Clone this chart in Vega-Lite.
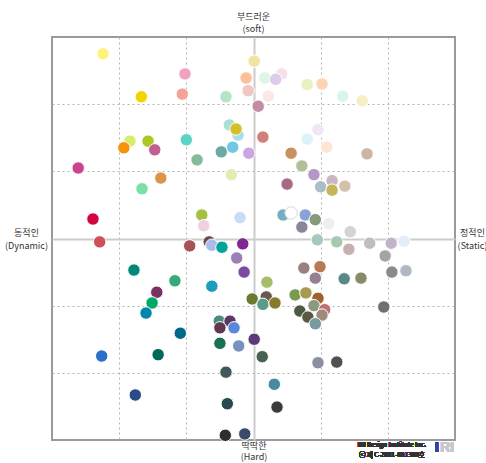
{
  "$schema": "https://vega.github.io/schema/vega-lite/v6.json",
  "width": 403,
  "height": 403,
  "autosize": {"type": "none"},
  "padding": {"left": 52, "top": 37, "right": 31, "bottom": 23},
  "background": "white",
  "config": {
    "view": {"stroke": "#9a9a9a", "strokeWidth": 2},
    "font": "Noto Sans CJK KR"
  },
  "title": {
    "text": "부드러운",
    "subtitle": "(soft)",
    "font": "Noto Sans CJK KR",
    "subtitleFont": "Noto Sans CJK KR",
    "fontSize": 9,
    "subtitleFontSize": 9,
    "fontWeight": "normal",
    "color": "#333333",
    "subtitleColor": "#333333",
    "anchor": "middle",
    "frame": "group",
    "offset": 3,
    "subtitlePadding": 3
  },
  "data": {
    "values": [
      {"x": -2.24, "y": 2.75, "hex": "#FFF27A"},
      {"x": -1.02, "y": 2.45, "hex": "#EFA3C0"},
      {"x": -1.67, "y": 2.11, "hex": "#F2D500"},
      {"x": -1.06, "y": 2.15, "hex": "#F3A39A"},
      {"x": -0.41, "y": 2.11, "hex": "#B5E3C5"},
      {"x": 0.01, "y": 2.64, "hex": "#EFE4A0"},
      {"x": -0.11, "y": 2.39, "hex": "#FBC095"},
      {"x": 0.42, "y": 2.45, "hex": "#F7E0EA"},
      {"x": 0.17, "y": 2.39, "hex": "#DDF5E3"},
      {"x": 0.33, "y": 2.37, "hex": "#DCCBEA"},
      {"x": -0.08, "y": 2.20, "hex": "#F2C6C0"},
      {"x": 0.22, "y": 2.12, "hex": "#FCE6E6"},
      {"x": 0.80, "y": 2.29, "hex": "#E8F2C0"},
      {"x": 1.02, "y": 2.30, "hex": "#FDD3B5"},
      {"x": 1.33, "y": 2.12, "hex": "#D7F5EE"},
      {"x": 1.62, "y": 2.05, "hex": "#F6EFC6"},
      {"x": 0.07, "y": 1.97, "hex": "#C48CA4"},
      {"x": -0.36, "y": 1.69, "hex": "#A8E0D5"},
      {"x": -0.23, "y": 1.54, "hex": "#A6DDE8"},
      {"x": -0.26, "y": 1.63, "hex": "#D4BE2A"},
      {"x": 0.14, "y": 1.51, "hex": "#D0807A"},
      {"x": -1.84, "y": 1.45, "hex": "#D4EE6A"},
      {"x": -1.57, "y": 1.45, "hex": "#A8C920"},
      {"x": -1.93, "y": 1.35, "hex": "#F5920A"},
      {"x": -1.47, "y": 1.32, "hex": "#BF6090"},
      {"x": -1.00, "y": 1.47, "hex": "#5CD3C4"},
      {"x": -0.48, "y": 1.29, "hex": "#6AAAA3"},
      {"x": -0.31, "y": 1.36, "hex": "#74C7E3"},
      {"x": -0.07, "y": 1.27, "hex": "#CBA7E2"},
      {"x": -0.84, "y": 1.17, "hex": "#86BA9B"},
      {"x": 0.56, "y": 1.27, "hex": "#C9905F"},
      {"x": 0.96, "y": 1.62, "hex": "#EFE6F6"},
      {"x": 0.80, "y": 1.48, "hex": "#DAF2F8"},
      {"x": 1.09, "y": 1.36, "hex": "#FDE5D3"},
      {"x": 1.69, "y": 1.26, "hex": "#CCB5A5"},
      {"x": -2.61, "y": 1.05, "hex": "#C84390"},
      {"x": -0.33, "y": 0.95, "hex": "#E0EEB0"},
      {"x": -1.38, "y": 0.90, "hex": "#DC9448"},
      {"x": -1.66, "y": 0.74, "hex": "#79E0A8"},
      {"x": 0.72, "y": 1.08, "hex": "#B2C09A"},
      {"x": 0.90, "y": 0.95, "hex": "#B596C8"},
      {"x": 0.50, "y": 0.81, "hex": "#A66A85"},
      {"x": 1.00, "y": 0.77, "hex": "#A9BEC6"},
      {"x": 1.17, "y": 0.86, "hex": "#C9B6C0"},
      {"x": 1.17, "y": 0.72, "hex": "#C4B45A"},
      {"x": 1.36, "y": 0.78, "hex": "#D2C2AA"},
      {"x": -2.39, "y": 0.29, "hex": "#D2063F"},
      {"x": -2.29, "y": -0.05, "hex": "#CF5158"},
      {"x": -0.77, "y": 0.35, "hex": "#A3C040"},
      {"x": -0.74, "y": 0.19, "hex": "#F0D0DE"},
      {"x": -0.20, "y": 0.31, "hex": "#CBDAF5"},
      {"x": -0.95, "y": -0.11, "hex": "#A65357"},
      {"x": -0.66, "y": -0.05, "hex": "#6A4A4A"},
      {"x": -0.62, "y": -0.10, "hex": "#A9BCEB"},
      {"x": -0.47, "y": -0.13, "hex": "#00A49A"},
      {"x": -0.16, "y": -0.08, "hex": "#7A2A90"},
      {"x": -0.25, "y": -0.29, "hex": "#9C80B5"},
      {"x": -0.14, "y": -0.50, "hex": "#7C4AA0"},
      {"x": -1.78, "y": -0.47, "hex": "#00877A"},
      {"x": -1.17, "y": -0.63, "hex": "#36AA78"},
      {"x": -0.62, "y": -0.71, "hex": "#1F9BBB"},
      {"x": -1.44, "y": -0.80, "hex": "#7B3062"},
      {"x": -1.51, "y": -0.96, "hex": "#00A865"},
      {"x": 0.44, "y": 0.35, "hex": "#74AEC2"},
      {"x": 0.56, "y": 0.38, "hex": "#FFFFFF"},
      {"x": 0.77, "y": 0.35, "hex": "#8AA2D6"},
      {"x": 0.92, "y": 0.28, "hex": "#869A7A"},
      {"x": 0.72, "y": 0.17, "hex": "#8C8498"},
      {"x": 1.12, "y": 0.22, "hex": "#EEEEEE"},
      {"x": 1.44, "y": 0.10, "hex": "#D4D4D4"},
      {"x": 0.95, "y": -0.02, "hex": "#A8C8BF"},
      {"x": 1.24, "y": -0.05, "hex": "#A8C8B0"},
      {"x": 1.42, "y": -0.16, "hex": "#C8B0B0"},
      {"x": 1.73, "y": -0.07, "hex": "#BEBEBE"},
      {"x": 2.05, "y": -0.07, "hex": "#C0B4C8"},
      {"x": 2.24, "y": -0.04, "hex": "#E4ECF8"},
      {"x": 1.96, "y": -0.26, "hex": "#A4A4A4"},
      {"x": 0.75, "y": -0.44, "hex": "#9A8080"},
      {"x": 0.99, "y": -0.42, "hex": "#B87A50"},
      {"x": 0.92, "y": -0.59, "hex": "#968090"},
      {"x": 1.35, "y": -0.60, "hex": "#5A8888"},
      {"x": 1.60, "y": -0.59, "hex": "#8A8A6A"},
      {"x": 2.06, "y": -0.50, "hex": "#8A8A8A"},
      {"x": 2.27, "y": -0.48, "hex": "#B0B8C4"},
      {"x": 0.20, "y": -0.65, "hex": "#A5BD6A"},
      {"x": -0.02, "y": -0.90, "hex": "#6A7A30"},
      {"x": 0.19, "y": -0.87, "hex": "#6A5A4A"},
      {"x": 0.14, "y": -0.98, "hex": "#5A9A88"},
      {"x": 0.32, "y": -0.96, "hex": "#867A30"},
      {"x": 0.62, "y": -0.84, "hex": "#7A9A50"},
      {"x": 0.78, "y": -0.81, "hex": "#A89A50"},
      {"x": 0.96, "y": -0.89, "hex": "#A0602A"},
      {"x": 0.69, "y": -1.08, "hex": "#4A5A40"},
      {"x": 0.90, "y": -1.00, "hex": "#8A9A80"},
      {"x": 1.06, "y": -1.06, "hex": "#C07070"},
      {"x": 0.81, "y": -1.17, "hex": "#5A5840"},
      {"x": 1.02, "y": -1.14, "hex": "#A08A7A"},
      {"x": 0.92, "y": -1.27, "hex": "#7A9AA0"},
      {"x": 1.94, "y": -1.02, "hex": "#707070"},
      {"x": -1.60, "y": -1.11, "hex": "#0088A8"},
      {"x": -1.09, "y": -1.41, "hex": "#006888"},
      {"x": -2.26, "y": -1.75, "hex": "#2A70C8"},
      {"x": -1.42, "y": -1.73, "hex": "#006A5A"},
      {"x": -0.51, "y": -1.23, "hex": "#4A8A80"},
      {"x": -0.35, "y": -1.23, "hex": "#5A3A60"},
      {"x": -0.50, "y": -1.33, "hex": "#603850"},
      {"x": -0.29, "y": -1.33, "hex": "#5A88D8"},
      {"x": -0.50, "y": -1.56, "hex": "#1A7050"},
      {"x": -0.22, "y": -1.60, "hex": "#7890C0"},
      {"x": 0.01, "y": -1.50, "hex": "#5A3A78"},
      {"x": 0.13, "y": -1.76, "hex": "#4A6050"},
      {"x": 0.96, "y": -1.85, "hex": "#8A90A0"},
      {"x": 1.24, "y": -1.84, "hex": "#505050"},
      {"x": -0.41, "y": -1.99, "hex": "#40585A"},
      {"x": 0.31, "y": -2.17, "hex": "#4A8AA0"},
      {"x": -1.76, "y": -2.33, "hex": "#2A4A88"},
      {"x": -0.39, "y": -2.46, "hex": "#2A4850"},
      {"x": 0.35, "y": -2.51, "hex": "#3A3A3A"},
      {"x": -0.42, "y": -2.93, "hex": "#2E2E2E"},
      {"x": -0.13, "y": -2.91, "hex": "#3A4A6A"}
    ]
  },
  "layer": [
    {
      "mark": {"type": "circle", "size": 155, "opacity": 1, "strokeWidth": 1},
      "encoding": {
        "x": {
          "field": "x", "type": "quantitative",
          "scale": {"domain": [-3, 3], "nice": false, "zero": false},
          "axis": {
            "orient": "bottom",
            "values": [-2, -1, 0, 1, 2],
            "labels": false, "ticks": false, "domain": false,
            "grid": true,
            "gridColor": {"condition": {"test": "datum.value === 0", "value": "#cccccc"}, "value": "#b4b4b4"},
            "gridDash": {"condition": {"test": "datum.value === 0", "value": []}, "value": [2, 3]},
            "gridWidth": {"condition": {"test": "datum.value === 0", "value": 2}, "value": 1},
            "title": ["딱딱한", "(Hard)"],
            "titleFont": "Noto Sans CJK KR",
            "titleFontSize": 9,
            "titleFontWeight": "normal",
            "titleColor": "#333333",
            "titlePadding": 1,
            "titleLineHeight": 11.5
          }
        },
        "y": {
          "field": "y", "type": "quantitative",
          "scale": {"domain": [-3, 3], "nice": false, "zero": false},
          "axis": {
            "orient": "left",
            "values": [-2, -1, 0, 1, 2],
            "labels": false, "ticks": false, "domain": false,
            "grid": true,
            "gridColor": {"condition": {"test": "datum.value === 0", "value": "#cccccc"}, "value": "#b4b4b4"},
            "gridDash": {"condition": {"test": "datum.value === 0", "value": []}, "value": [2, 3]},
            "gridWidth": {"condition": {"test": "datum.value === 0", "value": 2}, "value": 1},
            "title": ["동적인", "(Dynamic)"],
            "titleFont": "Noto Sans CJK KR",
            "titleFontSize": 9,
            "titleFontWeight": "normal",
            "titleColor": "#333333",
            "titleAngle": 0,
            "titleAlign": "center",
            "titleBaseline": "middle",
            "titleLineHeight": 13,
            "titleX": -26,
            "titleY": 195
          }
        },
        "color": {"field": "hex", "type": "nominal", "scale": null},
        "stroke": {"condition": {"test": "datum.hex === '#FFFFFF'", "value": "#d6d6d6"}, "value": "#ffffff"}
      }
    },
    {
      "mark": {"type": "text", "fontSize": 6, "fontWeight": "bold", "color": "#333333", "align": "center", "baseline": "middle", "font": "Noto Sans CJK KR"},
      "encoding": {
        "x": {"datum": 2.06, "type": "quantitative", "scale": {"domain": [-3, 3], "nice": false, "zero": false}, "axis": null},
        "y": {
          "datum": -3.07, "type": "quantitative",
          "scale": {"domain": [-3, 3], "nice": false, "zero": false},
          "axis": {
            "orient": "right",
            "labels": false, "ticks": false, "domain": false, "grid": false,
            "title": ["정적인", "(Static)"],
            "titleFont": "Noto Sans CJK KR",
            "titleFontSize": 9,
            "titleFontWeight": "normal",
            "titleColor": "#333333",
            "titleAngle": 0,
            "titleAlign": "center",
            "titleBaseline": "middle",
            "titleLineHeight": 13,
            "titleX": 17,
            "titleY": 195
          }
        },
        "text": {"value": "IRI Design Institute Inc."}
      }
    },
    {
      "mark": {"type": "text", "fontSize": 6.5, "color": "#333333", "align": "center", "baseline": "middle", "font": "Noto Sans CJK KR"},
      "encoding": {
        "x": {"datum": 2.06, "type": "quantitative", "scale": {"domain": [-3, 3], "nice": false, "zero": false}, "axis": null},
        "y": {"datum": -3.23, "type": "quantitative", "scale": {"domain": [-3, 3], "nice": false, "zero": false}, "axis": null},
        "text": {"value": "ⓒ 제 C-2001-001388호"}
      }
    },
    {
      "mark": {"type": "text", "fontSize": 14, "fontWeight": "bold", "color": "#2a4a8a", "align": "left", "baseline": "middle", "font": "Liberation Sans"},
      "encoding": {
        "x": {"datum": 2.7, "type": "quantitative", "scale": {"domain": [-3, 3], "nice": false, "zero": false}, "axis": null},
        "y": {"datum": -3.12, "type": "quantitative", "scale": {"domain": [-3, 3], "nice": false, "zero": false}, "axis": null},
        "text": {"value": "I"}
      }
    },
    {
      "mark": {"type": "text", "fontSize": 14, "fontWeight": "bold", "color": "#c4c8d0", "align": "left", "baseline": "middle", "font": "Liberation Sans"},
      "encoding": {
        "x": {"datum": 2.78, "type": "quantitative", "scale": {"domain": [-3, 3], "nice": false, "zero": false}, "axis": null},
        "y": {"datum": -3.12, "type": "quantitative", "scale": {"domain": [-3, 3], "nice": false, "zero": false}, "axis": null},
        "text": {"value": "RI"}
      }
    }
  ],
  "resolve": {"axis": {"x": "independent", "y": "independent"}}
}
